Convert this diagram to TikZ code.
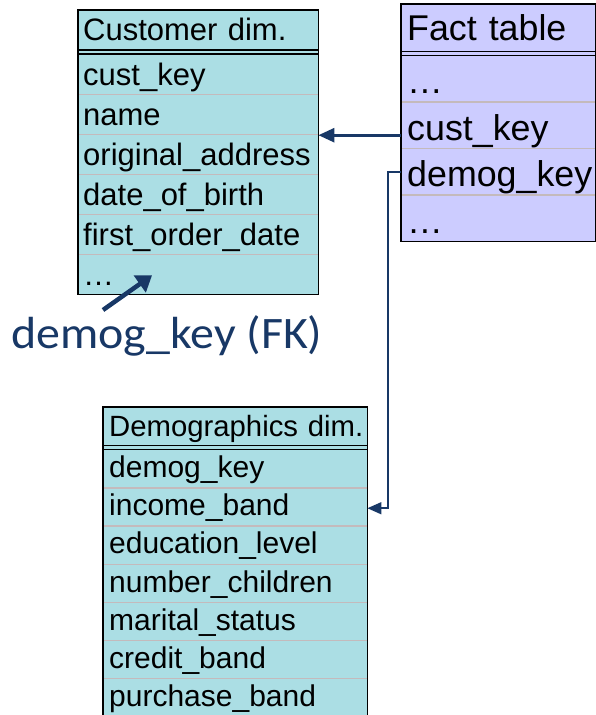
\documentclass[tikz,border=0pt]{standalone}
\usepackage{fontspec}
\usepackage{graphicx}
\setmainfont{Liberation Sans}
\newfontfamily\calib{Carlito}
\usetikzlibrary{arrows.meta,calc}

\definecolor{dimfill}{HTML}{ABDEE4}
\definecolor{factfill}{HTML}{CCCCFF}
\definecolor{rowline}{HTML}{C4BABC}
\definecolor{navy}{HTML}{183866}

\tikzset{
  cellbase/.style={rectangle, anchor=north west, inner ysep=0pt, align=left},
  chdr/.style={cellbase, inner xsep=5pt, text width=230pt, minimum height=39.5pt,
    text height=26pt, text depth=4.5pt, font=\fontsize{31}{37}\selectfont},
  crow/.style={cellbase, inner xsep=5pt, text width=230pt, minimum height=40pt,
    text height=26pt, text depth=4pt, font=\fontsize{31}{37}\selectfont},
  fhdr/.style={cellbase, inner xsep=6pt, text width=182pt, minimum height=47pt,
    text height=29pt, text depth=4pt, font=\fontsize{35.8}{42}\selectfont},
  frow/.style={cellbase, inner xsep=6pt, text width=182pt, minimum height=46.5pt,
    text height=35pt, text depth=4pt, font=\fontsize{35.8}{42}\selectfont},
  dhdr/.style={cellbase, inner xsep=6pt, text width=252pt, minimum height=38pt,
    text height=25pt, text depth=5pt, font=\fontsize{29.3}{35}\selectfont},
  drow/.style={cellbase, inner xsep=6pt, text width=252pt, minimum height=38.15pt,
    text height=24pt, text depth=6pt, font=\fontsize{30}{36}\selectfont},
  rowsep/.style={draw=rowline, line width=1.3pt},
  hdrline/.style={draw=black, line width=1.3pt},
  tabborder/.style={draw=black, line width=1.3pt},
  fklink/.style={draw=navy, line width=2.6pt, -{Triangle[length=16pt,width=14pt]}},
  fklinkthin/.style={draw=navy, line width=1.5pt, -{Triangle[length=14pt,width=12pt]}},
  notearrow/.style={draw=navy, line width=4.5pt, -{Triangle[length=15pt,width=20pt]}},
}

\begin{document}
\begin{tikzpicture}[x=1pt, y=-1pt]
\clip (0,0) rectangle (596,715);
\useasboundingbox (0,0) rectangle (596,715);

% ---------------- Customer dimension ----------------
\fill[dimfill] (78,10) rectangle (318,294);
\node[chdr] (chead) at (78,10) {Customer dim.};
\foreach \t [count=\i] in {cust\_key, name, original\_address, date\_of\_birth, first\_order\_date, …}
  \node[crow] (cr\i) at (78,{54+40*(\i-1)}) {\t};
\foreach \i in {1,...,5}
  \draw[rowsep] (cr\i.south west) -- (cr\i.south east);
\draw[hdrline] (chead.south west) -- (chead.south east);
\draw[hdrline] ([yshift=-4pt]chead.south west) -- ([yshift=-4pt]chead.south east);
\draw[tabborder] (chead.north west) rectangle (cr6.south east);

% ---------------- Fact table ----------------
\fill[factfill] (401,4) rectangle (595,241);
\node[fhdr] (fhead) at (401,4) {Fact table};
\foreach \t [count=\i] in {…, cust\_key, demog\_key, …}
  \node[frow] (fr\i) at (401,{55+46.5*(\i-1)}) {\t};
\foreach \i in {1,...,3}
  \draw[rowsep] (fr\i.south west) -- (fr\i.south east);
\draw[hdrline] (fhead.south west) -- (fhead.south east);
\draw[hdrline] ([yshift=-4pt]fhead.south west) -- ([yshift=-4pt]fhead.south east);
\draw[tabborder] (fhead.north west) rectangle (fr4.south east);

% ---------------- Demographics dimension ----------------
\fill[dimfill] (103,407) rectangle (367,720);
\node[dhdr] (dhead) at (103,407) {\mbox{Demographics dim.}};
\foreach \t [count=\i] in {demog\_key, income\_band, education\_level, number\_children, marital\_status, credit\_band, purchase\_band}
  \node[drow] (dr\i) at (103,{449.3+38.15*(\i-1)}) {\t};
\foreach \i in {1,...,6}
  \draw[rowsep] (dr\i.south west) -- (dr\i.south east);
\draw[hdrline] (dhead.south west) -- (dhead.south east);
\draw[hdrline] ([yshift=-4.3pt]dhead.south west) -- ([yshift=-4.3pt]dhead.south east);
\draw[tabborder] (dhead.north west) rectangle (dr7.south east);

% ---------------- Foreign key links ----------------
\coordinate (custport) at ([yshift=-10.25pt]fr2.west);
\draw[fklink] (custport) -- (custport -| cr3.east);

\coordinate (demogport) at ([yshift=-0.75pt]fr3.west);
\coordinate (incomeport) at ([yshift=-1.5pt]dr2.east);
\draw[fklinkthin] (demogport) -- ++(-13,0) |- (incomeport);

% ---------------- Annotation ----------------
\node[anchor=base west, inner sep=0pt, text=navy,
      font=\calib\fontsize{45}{54}\selectfont] (fklabel) at (11,348)
  {\scalebox{1.065}[1]{demog\_key (FK)}};
\coordinate (notetail) at (103,310);
\draw[notearrow] (notetail) -- ([xshift=74pt,yshift=19pt]cr6.south west);
\end{tikzpicture}
\end{document}
